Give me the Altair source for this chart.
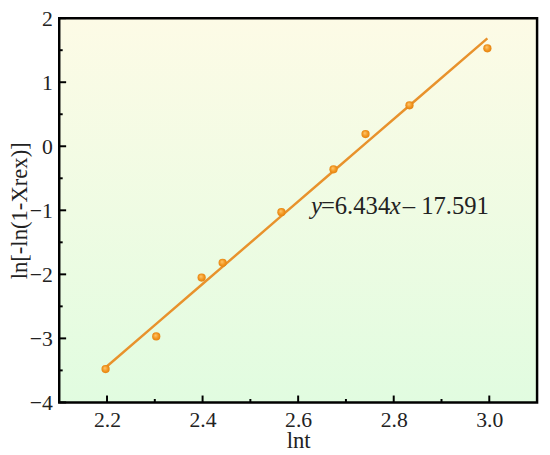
import altair as alt
import pandas as pd

# data
lnt = [2.197, 2.303, 2.398, 2.442, 2.565, 2.674, 2.741, 2.833, 2.996]
lnln = [-3.48, -2.97, -2.05, -1.82, -1.03, -0.36, 0.19, 0.64, 1.53]
slope = 6.434
intercept = -17.591
x_major = [2.2, 2.4, 2.6, 2.8, 3.0]
x_minor = [2.3, 2.5, 2.7, 2.9]
y_major = [-4, -3, -2, -1, 0, 1, 2]
y_minor = [-3.5, -2.5, -1.5, -0.5, 0.5, 1.5]
eq_pos = {"x": 2.627, "y": -1.05}
eq_pieces = ["y", "=6.434", "x", "\u2013 17.591"]

W, H = 485, 390
FONT = "Liberation Serif"
MAJOR, MINOR = 7, 3.5

df = pd.DataFrame({"lnt": lnt, "val": lnln})
eq_df = pd.DataFrame([eq_pos])

xscale = alt.Scale(domain=[2.1, 3.1], nice=False, zero=False)
yscale = alt.Scale(domain=[-4, 2], nice=False, zero=False)

xaxis = alt.Axis(
    values=x_major,
    title="lnt",
    format=".1f",
    ticks=False,
    domain=False,
    grid=False,
    labelFont=FONT, labelFontSize=22, labelColor="#222", labelPadding=7,
    titleFont=FONT, titleFontSize=23, titleFontWeight="normal", titleColor="#222", titlePadding=0,
)
yaxis = alt.Axis(
    values=y_major,
    title="ln[-ln(1-Xrex)]",
    format="d",
    ticks=False,
    domain=False,
    grid=False,
    labelFont=FONT, labelFontSize=22, labelColor="#222", labelPadding=7,
    titleFont=FONT, titleFontSize=23, titleFontWeight="normal", titleColor="#222", titlePadding=-2,
)

base = alt.Chart(df)

fit = base.transform_calculate(
    fit=f"{slope}*datum.lnt + ({intercept})"
).mark_line(color="#e8922c", strokeWidth=2.5).encode(
    x=alt.X("lnt:Q", scale=xscale, axis=xaxis),
    y=alt.Y("fit:Q", scale=yscale, axis=yaxis),
)

pts = base.mark_point(
    filled=True, size=70, opacity=1,
    fill={"gradient": "radial", "x1": 0.4, "y1": 0.35, "r1": 0, "x2": 0.5, "y2": 0.5, "r2": 0.55,
          "stops": [{"offset": 0, "color": "#ffc870"}, {"offset": 0.6, "color": "#f2951e"}, {"offset": 1, "color": "#e07f10"}]},
    shape="circle",
).encode(
    x=alt.X("lnt:Q", scale=xscale),
    y=alt.Y("val:Q", scale=yscale),
)

# inward tick marks drawn through the shared scales
def xticks(vals, length):
    return alt.Chart(pd.DataFrame({"v": vals})).mark_rule(color="black", strokeWidth=2).encode(
        x=alt.X("v:Q", scale=xscale), y=alt.value(H), y2=alt.value(H - length))

def yticks(vals, length):
    return alt.Chart(pd.DataFrame({"v": vals})).mark_rule(color="black", strokeWidth=2).encode(
        y=alt.Y("v:Q", scale=yscale), x=alt.value(0), x2=alt.value(length))

tick_layers = [xticks(x_major, MAJOR), xticks(x_minor, MINOR),
               yticks(y_major, MAJOR), yticks(y_minor, MINOR)]

offsets = [0, 10, 80, 93]
italic = [True, False, True, False]
texts = []
for piece, dx, it in zip(eq_pieces, offsets, italic):
    texts.append(
        alt.Chart(eq_df).mark_text(
            text=piece, align="left", baseline="alphabetic", dx=dx,
            font=FONT, fontSize=25, fontStyle="italic" if it else "normal", color="#222",
        ).encode(x=alt.X("x:Q", scale=xscale), y=alt.Y("y:Q", scale=yscale))
    )

grad_expr = ("{gradient: 'linear', x1: 0, y1: 0, x2: 0, y2: 1, "
             "stops: [{offset: 0, color: '#fdfbe6'}, {offset: 1, color: '#e1fce0'}]}")

chart = alt.layer(fit, pts, *tick_layers, *texts).properties(
    width=W, height=H,
    autosize=alt.AutoSizeParams(type="none"),
    padding={"left": 52, "top": 7, "right": 5, "bottom": 48},
    background="white",
).configure_view(stroke="black", strokeWidth=2.5, fill={"expr": grad_expr})

chart.save("out.html", embed_options={"renderer": "svg", "actions": False})
